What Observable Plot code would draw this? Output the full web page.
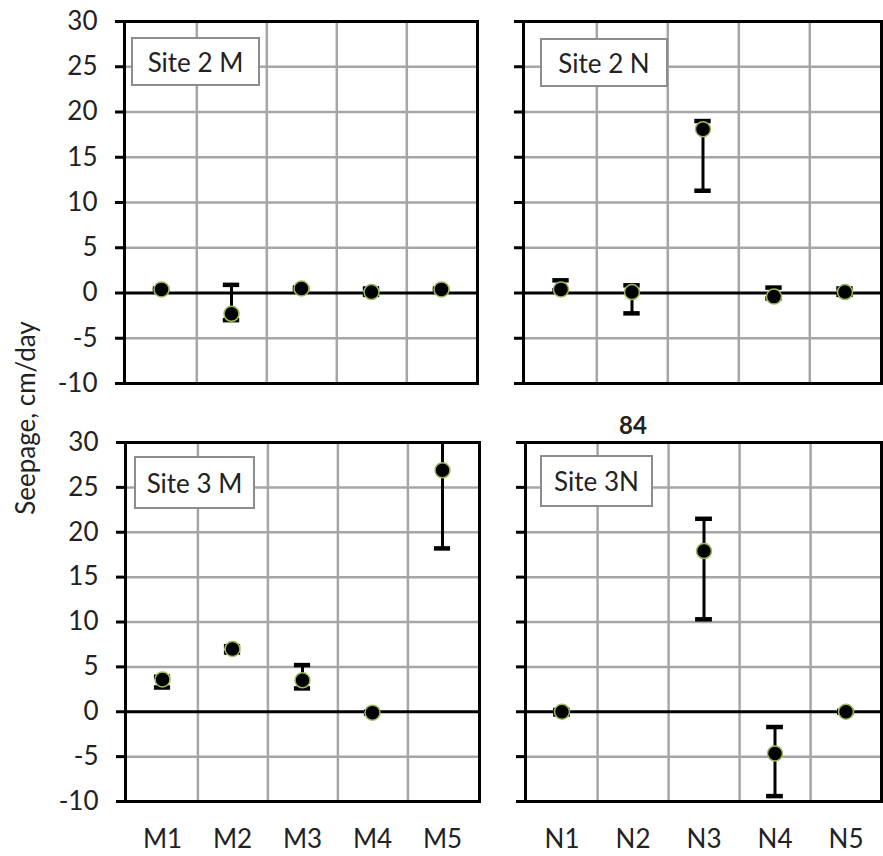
<!DOCTYPE html>
<html><head><meta charset="utf-8">
<script src="https://cdn.jsdelivr.net/npm/d3@7"></script>
<script src="https://cdn.jsdelivr.net/npm/@observablehq/plot@0.6"></script>
<style>
body{margin:0;background:#fff;}
#chart{position:relative;width:883px;height:856px;font-family:Lato,sans-serif;color:#222;overflow:hidden;}
.panel{position:absolute;}
.label{position:absolute;border:2px solid #8c8c8c;background:#fff;font-size:26px;display:flex;align-items:center;justify-content:center;box-sizing:border-box;color:#222;}
.ytitle{position:absolute;width:320px;height:32px;line-height:32px;text-align:center;font-size:26px;transform:rotate(-90deg);color:#222;}
</style>
</head><body>
<div id="chart"></div>
<script>
// ---- data ----
const siteLabels = ["Site 2 M", "Site 2 N", "Site 3 M", "Site 3N"];
const catsM = ["M1", "M2", "M3", "M4", "M5"];
const catsN = ["N1", "N2", "N3", "N4", "N5"];
const yTicks = [-10, -5, 0, 5, 10, 15, 20, 25, 30];

const site2M = [0.4, -2.3, 0.5, 0.1, 0.4];
const site2MLow = [0.3, -3.0, 0.4, -0.2, 0.3];
const site2MHigh = [0.5, 0.9, 0.6, 0.5, 0.5];

const site2N = [0.4, 0.1, 18.1, -0.4, 0.1];
const site2NLow = [0.3, -2.25, 11.3, -0.6, -0.2];
const site2NHigh = [1.4, 0.85, 19.0, 0.6, 0.5];

const site3M = [3.6, 7.0, 3.5, -0.1, 26.9];
const site3MLow = [2.7, 6.6, 2.6, -0.2, 18.2];
const site3MHigh = [3.9, 7.3, 5.2, 0.0, 31.5];

const site3N = [0.0, 84, 17.9, -4.65, 0.0];
const site3NLow = [-0.3, null, 10.3, -9.4, -0.1];
const site3NHigh = [0.2, null, 21.5, -1.7, 0.1];

const yTitle = "Seepage, cm/day";

// ---- drawing ----
const chart = document.getElementById("chart");
const grid = "#a6a6a6";

function makePanel(cfg) {
  const data = cfg.cats.map((c, i) => ({cat: c, v: cfg.vals[i], low: cfg.lows[i], high: cfg.highs[i]}));
  const fw = cfg.width - cfg.ml - cfg.mr;
  const bw = fw / cfg.cats.length;
  const ins = (bw - 17) / 2;
  const p = Plot.plot({
    width: cfg.width, height: cfg.height,
    marginLeft: cfg.ml, marginRight: cfg.mr, marginTop: cfg.mt, marginBottom: cfg.mb,
    style: {fontFamily: "Lato, sans-serif", fontSize: "26px", color: "#222", background: "transparent", overflow: "visible"},
    x: {type: "band", domain: cfg.cats, padding: 0, axis: null},
    y: {domain: [-10, 30], axis: null},
    marks: [
      Plot.ruleY(yTicks.filter(v => v !== 0 && v !== -10 && v !== 30), {stroke: grid, strokeWidth: 2.5}),
      Plot.ruleX(cfg.cats.slice(0, -1), {x: d => d, dx: bw / 2, stroke: grid, strokeWidth: 2.5}),
      Plot.ruleY([0], {stroke: "#000", strokeWidth: 3}),
      Plot.ruleX(data.filter(d => d.low != null), {x: "cat", y1: "low", y2: "high", stroke: "#000", strokeWidth: 3, clip: true}),
      Plot.tickY(data.filter(d => d.low != null), {x: "cat", y: "low", insetLeft: ins, insetRight: ins, stroke: "#000", strokeWidth: 4.5, clip: true}),
      Plot.tickY(data.filter(d => d.high != null), {x: "cat", y: "high", insetLeft: ins, insetRight: ins, stroke: "#000", strokeWidth: 4.5, clip: true}),
      Plot.dot(data, {x: "cat", y: "v", r: 7.5, fill: "#000", stroke: "#9bbb59", strokeWidth: 1.5, clip: true}),
      Plot.text(data.filter(d => d.v > 30), {x: "cat", text: d => String(d.v), frameAnchor: "top", lineAnchor: "middle", dy: -16, fontWeight: "bold", fontSize: 24, fill: "#222"}),
      Plot.frame({stroke: "#000", strokeWidth: 3}),
      Plot.axisY({ticks: yTicks, tickSize: 9, tickPadding: 18, strokeWidth: 3, stroke: "#000", label: null,
                  tickFormat: cfg.showY ? (d => String(d)) : (() => "")}),
      cfg.showX ? Plot.axisX({tickSize: 0, tickPadding: 28, label: null}) : null
    ]
  });
  const wrap = document.createElement("div");
  wrap.className = "panel";
  wrap.style.left = cfg.left + "px";
  wrap.style.top = cfg.top + "px";
  wrap.appendChild(p);
  chart.appendChild(wrap);

  const lab = document.createElement("div");
  lab.className = "label";
  lab.textContent = cfg.label;
  Object.assign(lab.style, {left: cfg.box[0] + "px", top: cfg.box[1] + "px", width: cfg.box[2] + "px", height: cfg.box[3] + "px"});
  chart.appendChild(lab);
}

makePanel({cats: catsM, vals: site2M, lows: site2MLow, highs: site2MHigh, label: siteLabels[0],
  left: 0, top: 0, width: 500, height: 400, ml: 124, mr: 23, mt: 21, mb: 17, showY: true, showX: false,
  box: [131, 37, 129, 49]});
makePanel({cats: catsN, vals: site2N, lows: site2NLow, highs: site2NHigh, label: siteLabels[1],
  left: 500, top: 0, width: 383, height: 400, ml: 23, mr: 2, mt: 21, mb: 17, showY: false, showX: false,
  box: [540, 38, 128, 49]});
makePanel({cats: catsM, vals: site3M, lows: site3MLow, highs: site3MHigh, label: siteLabels[2],
  left: 0, top: 410, width: 500, height: 446, ml: 125, mr: 21, mt: 32, mb: 55, showY: true, showX: true,
  box: [134, 456, 121, 53]});
makePanel({cats: catsN, vals: site3N, lows: site3NLow, highs: site3NHigh, label: siteLabels[3],
  left: 500, top: 410, width: 383, height: 446, ml: 25, mr: 2, mt: 32, mb: 55, showY: false, showX: true,
  box: [540, 455, 113, 52]});

const yt = document.createElement("div");
yt.className = "ytitle";
yt.textContent = yTitle;
yt.style.left = (25 - 160) + "px";
yt.style.top = (418 - 16) + "px";
chart.appendChild(yt);
</script>
</body></html>
